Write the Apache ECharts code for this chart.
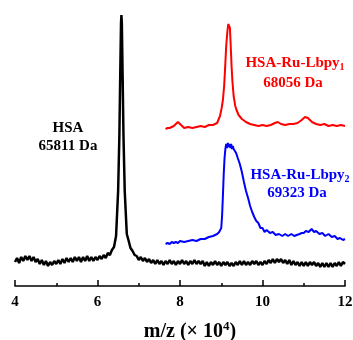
<!DOCTYPE html>
<html lang="en">
<head>
<meta charset="UTF-8">
<title>MALDI spectra</title>
<style>
  html, body { margin: 0; padding: 0; background: #fff; }
  #container { width: 353px; height: 340px; }
</style>
</head>
<body>
<div id="container"></div>
<script src="https://cdn.jsdelivr.net/npm/echarts@6/dist/echarts.min.js"></script>
<script>
// x: m/z (x10^4), y: intensity (arbitrary, spectra stacked with offsets)
var xTicks = [4, 6, 8, 10, 12];

var hsa = [
  [4.00,24],[4.05,28],[4.10,23],[4.15,29],[4.20,25],[4.25,30],[4.30,26],[4.35,30],[4.40,25],[4.45,29],
  [4.50,24],[4.55,27],[4.60,22],[4.65,26],[4.70,21],[4.75,25],[4.80,20],[4.85,24],[4.90,21],[4.95,25],
  [5.00,22],[5.05,26],[5.10,22],[5.15,27],[5.20,23],[5.25,28],[5.30,24],[5.35,28],[5.40,24],[5.45,29],
  [5.50,25],[5.55,29],[5.60,24],[5.65,29],[5.70,25],[5.75,30],[5.80,25],[5.85,29],[5.90,25],[5.95,29],
  [6.00,26],[6.05,30],[6.10,27],[6.15,31],[6.20,28],[6.25,33],[6.30,31],[6.35,36],[6.40,39],[6.45,50],
  [6.50,95],[6.53,150],[6.55,208],[6.57,263],[6.58,271],[6.59,263],[6.61,208],[6.63,150],[6.66,95],
  [6.71,52],[6.75,46],[6.80,38],[6.85,35],[6.90,31],
  [6.95,30],[7.00,26],[7.05,29],[7.10,25],[7.15,28],[7.20,24],[7.25,27],[7.30,23],[7.35,26],[7.40,22],
  [7.45,26],[7.50,22],[7.55,25],[7.60,21],[7.65,25],[7.70,22],[7.75,26],[7.80,22],[7.85,25],[7.90,21],
  [7.95,25],[8.00,22],[8.05,26],[8.10,22],[8.15,25],[8.20,21],[8.25,25],[8.30,22],[8.35,26],[8.40,22],
  [8.45,25],[8.50,22],[8.55,25],[8.60,20],[8.65,24],[8.70,20],[8.75,24],[8.80,21],[8.85,25],[8.90,21],
  [8.95,24],[9.00,20],[9.05,24],[9.10,21],[9.15,24],[9.20,20],[9.25,23],[9.30,20],[9.35,24],[9.40,21],
  [9.45,25],[9.50,21],[9.55,25],[9.60,21],[9.65,24],[9.70,21],[9.75,25],[9.80,22],[9.85,25],[9.90,21],
  [9.95,24],[10.00,21],[10.05,25],[10.10,22],[10.15,26],[10.20,23],[10.25,27],[10.30,23],[10.35,27],[10.40,24],
  [10.45,27],[10.50,23],[10.55,26],[10.60,22],[10.65,26],[10.70,21],[10.75,25],[10.80,21],[10.85,24],[10.90,20],
  [10.95,24],[11.00,20],[11.05,24],[11.10,20],[11.15,24],[11.20,21],[11.25,24],[11.30,20],[11.35,23],[11.40,19],
  [11.45,23],[11.50,19],[11.55,23],[11.60,19],[11.65,23],[11.70,19],[11.75,23],[11.80,20],[11.85,24],[11.90,20],
  [11.95,24],[12.00,22]
];

var ruLbpy1 = [
  [7.65,157],[7.70,158],[7.75,158],[7.80,159],[7.85,160],[7.90,162],[7.95,164],[8.00,162],[8.05,160],[8.10,158],
  [8.20,159],[8.30,158],[8.40,159],[8.50,160],[8.60,159],[8.70,161],[8.80,161],[8.85,162],[8.90,163],[8.93,165],
  [8.97,170],[9.01,178],[9.04,186],[9.07,200],[9.09,215],[9.12,240],[9.15,255],[9.17,262],[9.19,264],[9.21,258],
  [9.23,240],[9.25,220],[9.27,205],[9.30,190],[9.34,180],[9.37,176],[9.42,171],[9.50,167],[9.60,164],[9.70,162],
  [9.80,161],[9.90,160],[10.00,161],[10.10,160],[10.20,161],[10.30,163],[10.37,164],[10.45,162],[10.55,161],[10.65,162],
  [10.75,162],[10.85,163],[10.95,166],[11.03,169],[11.10,168],[11.20,164],[11.30,162],[11.40,161],[11.50,162],[11.60,160],
  [11.70,161],[11.80,160],[11.90,161],[12.00,160]
];

var ruLbpy2 = [
  [7.65,42],[7.70,43],[7.75,42],[7.80,44],[7.85,43],[7.90,44],[7.95,43],[8.00,45],[8.10,44],[8.20,45],
  [8.30,46],[8.40,45],[8.50,47],[8.60,47],[8.70,49],[8.80,50],[8.90,52],[8.95,54],[9.00,58],[9.02,70],
  [9.04,90],[9.06,112],[9.08,128],[9.10,137],[9.12,142],[9.14,138],[9.16,143],[9.18,139],[9.20,142],[9.22,138],
  [9.24,142],[9.26,137],[9.28,140],[9.30,137],[9.33,136],[9.36,133],[9.40,128],[9.45,122],[9.50,114],[9.55,104],
  [9.60,95],[9.65,88],[9.70,80],[9.75,74],[9.80,69],[9.85,65],[9.90,63],[9.95,58],[10.00,58],[10.05,54],
  [10.10,56],[10.18,53],[10.25,54],[10.32,51],[10.40,52],[10.48,50],[10.55,52],[10.62,50],[10.70,52],[10.77,50],
  [10.83,51],[10.90,52],[10.95,53],[11.00,53],[11.05,55],[11.12,54],[11.19,57],[11.25,54],[11.30,55],[11.38,52],
  [11.45,53],[11.52,50],[11.60,52],[11.68,49],[11.75,50],[11.82,47],[11.88,48],[11.95,46],[12.00,47]
];

var labels = [
  { x: 68, y: 128, text: '{m|HSA}', color: '#000' },
  { x: 68, y: 146, text: '{m|65811 Da}', color: '#000' },
  { x: 295, y: 63, text: '{m|HSA-Ru-Lbpy}{s|1}', color: '#ff0000' },
  { x: 293, y: 83, text: '{m|68056 Da}', color: '#ff0000' },
  { x: 300, y: 175, text: '{m|HSA-Ru-Lbpy}{s|2}', color: '#0000ff' },
  { x: 297, y: 193, text: '{m|69323 Da}', color: '#0000ff' }
];

var serif = '"Liberation Serif", "Times New Roman", serif';
var chart = echarts.init(document.getElementById('container'));

var rich = {
  m: { fontFamily: serif, fontWeight: 'bold', fontSize: 15, lineHeight: 18 },
  s: { fontFamily: serif, fontWeight: 'bold', fontSize: 10, lineHeight: 18, verticalAlign: 'bottom', padding: [6, 0, 0, 0] }
};

var option = {
  animation: false,
  backgroundColor: '#fff',
  grid: { left: 15, right: 8, top: 0, bottom: 54, containLabel: false, outerBoundsMode: 'none' },
  xAxis: {
    type: 'value',
    min: 4,
    max: 12,
    interval: 2,
    name: '{m|m/z (× 10}{p|4}{m|)}',
    nameLocation: 'middle',
    nameGap: 34,
    nameTextStyle: {
      padding: [0, 0, 0, 20],
      rich: {
        m: { fontFamily: serif, fontWeight: 'bold', fontSize: 20, color: '#000', lineHeight: 24 },
        p: { fontFamily: serif, fontWeight: 'bold', fontSize: 13, color: '#000', lineHeight: 24, verticalAlign: 'top' }
      }
    },
    axisLine: { lineStyle: { color: '#000', width: 1.5 } },
    axisTick: { inside: true, length: 6, lineStyle: { color: '#000', width: 1.5 } },
    minorTick: { show: true, splitNumber: 2, length: 3, lineStyle: { color: '#000', width: 1.5 } },
    splitLine: { show: false },
    axisLabel: {
      margin: 9,
      color: '#000',
      fontFamily: serif,
      fontWeight: 'bold',
      fontSize: 15,
      customValues: xTicks
    }
  },
  yAxis: {
    type: 'value',
    min: 0,
    max: 286,
    show: false
  },
  graphic: labels.map(function (l) {
    return {
      type: 'text',
      x: l.x,
      y: l.y,
      style: {
        text: l.text,
        rich: rich,
        fill: l.color,
        align: 'center',
        verticalAlign: 'middle',
        textAlign: 'center',
        textVerticalAlign: 'middle'
      }
    };
  }),
  series: [{
    name: 'HSA',
    type: 'line',
    data: hsa,
    showSymbol: false,
    lineStyle: { color: '#000', width: 2.5 }
  }, {
    name: 'HSA-Ru-Lbpy1',
    type: 'line',
    data: ruLbpy1,
    showSymbol: false,
    lineStyle: { color: '#ff0000', width: 2 }
  }, {
    name: 'HSA-Ru-Lbpy2',
    type: 'line',
    data: ruLbpy2,
    showSymbol: false,
    lineStyle: { color: '#0000ff', width: 2 }
  }]
};
chart.setOption(option);
</script>
</body>
</html>
